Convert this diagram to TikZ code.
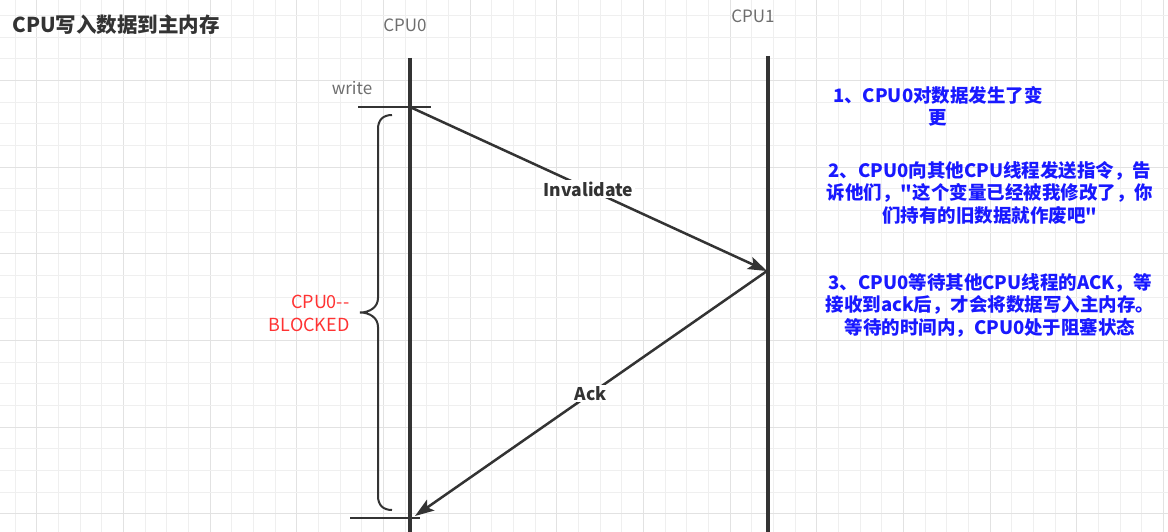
\documentclass[tikz,border=0pt]{standalone}
\usepackage{fontspec}
\setmainfont{Noto Sans CJK SC}
\usetikzlibrary{arrows.meta}
\definecolor{gridminor}{RGB}{239,239,239}
\definecolor{gridmajor}{RGB}{226,226,226}
\definecolor{inkdark}{RGB}{51,51,51}
\definecolor{inkgray}{RGB}{110,110,110}
\definecolor{noteblue}{RGB}{25,25,255}
\definecolor{blockred}{RGB}{255,51,51}
\begin{document}
\begin{tikzpicture}
[x=1pt,y=-1pt,
  lifeline/.style={inkdark,line width=4pt},%
  tickline/.style={inkdark,line width=2.5pt},%
  msgline/.style={inkdark,line width=2.5pt,-{Stealth[length=19pt,width=13pt,inset=4pt]}},%
  msglabel/.style={fill=white,inner sep=1.5pt,text=inkdark,font=\bfseries\fontsize{17.5}{21}\selectfont},%
  cpulabel/.style={text=inkgray,font=\fontsize{17}{20}\selectfont},%
  notetext/.style={text=noteblue,align=center,font=\bfseries\fontsize{18.5}{22.5}\selectfont}]
\useasboundingbox (0,0) rectangle (1168,532);
\fill[white] (0,0) rectangle (1168,532);
%% background grid
\foreach \i in {0,...,53} {
  \pgfmathtruncatemacro\ismajor{mod(\i,4)==1}
  \ifnum\ismajor=1 \def\gcol{gridmajor}\else \def\gcol{gridminor}\fi
  \draw[\gcol,line width=1pt] ({15+21.667*\i},0) -- ({15+21.667*\i},532);
}
\foreach \j in {0,...,24} {
  \pgfmathtruncatemacro\ismajor{mod(\j,4)==3}
  \ifnum\ismajor=1 \def\gcol{gridmajor}\else \def\gcol{gridminor}\fi
  \draw[\gcol,line width=1pt] (0,{15.6+21.667*\j}) -- (1168,{15.6+21.667*\j});
}
%% title and lifelines
\node (title) at (9,25) [anchor=west,text=inkdark,font=\bfseries\fontsize{20.5}{24}\selectfont] {CPU写入数据到主内存};
\node (cpu0) at (405,25) [cpulabel] {CPU0};
\node (cpu1) at (753,16) [cpulabel] {CPU1};
\coordinate (top0) at (410,58);
\coordinate (bot0) at (410,532);
\coordinate (top1) at (768,56);
\coordinate (bot1) at (768,532);
\draw[lifeline] (top0) -- (bot0);
\draw[lifeline] (top1) -- (bot1);
%% write and done ticks
\node (write) at (352,88) [cpulabel,font=\fontsize{17}{20}\selectfont] {write};
\coordinate (wl) at (358,107);
\coordinate (wr) at (431,107);
\coordinate (dl) at (350,518);
\coordinate (dr) at (420,518);
\draw[tickline] (wl) -- (wr);
\draw[tickline] (dl) -- (dr);
%% messages
\coordinate (w0) at (410,107);
\coordinate (a1) at (767,271);
\coordinate (k0) at (415,516);
\draw[msgline] (w0) -- node[msglabel] {Invalidate} (a1);
\draw[msgline] (a1) -- node[msglabel] {Ack} (k0);
%% blocked brace
\draw[inkdark,line width=2pt] (392,115) .. controls (383,115) and (378,120) .. (378,129)
  -- (378,298) .. controls (378,307) and (370,312.5) .. (360,312.5)
  .. controls (370,312.5) and (378,318) .. (378,327)
  -- (378,496) .. controls (378,505) and (383,510) .. (392,510);
\node (blocked) at (353,313) [anchor=east,align=right,text=blockred,font=\fontsize{18}{23}\selectfont] {CPU0-{}-\\BLOCKED};
%% notes
\node (note1) at (938,106.5) [notetext] {1、CPU0对数据发生了变\\更};
\node (note2) at (990,192.5) [notetext] {2、CPU0向其他CPU线程发送指令，告\\诉他们，\textquotedbl 这个变量已经被我修改了，你\\们持有的旧数据就作废吧\textquotedbl};
\node (note3) at (990,305) [notetext] {3、CPU0等待其他CPU线程的ACK，等\\接收到ack后，才会将数据写入主内存。\\等待的时间内，CPU0处于阻塞状态};
\end{tikzpicture}
\end{document}
